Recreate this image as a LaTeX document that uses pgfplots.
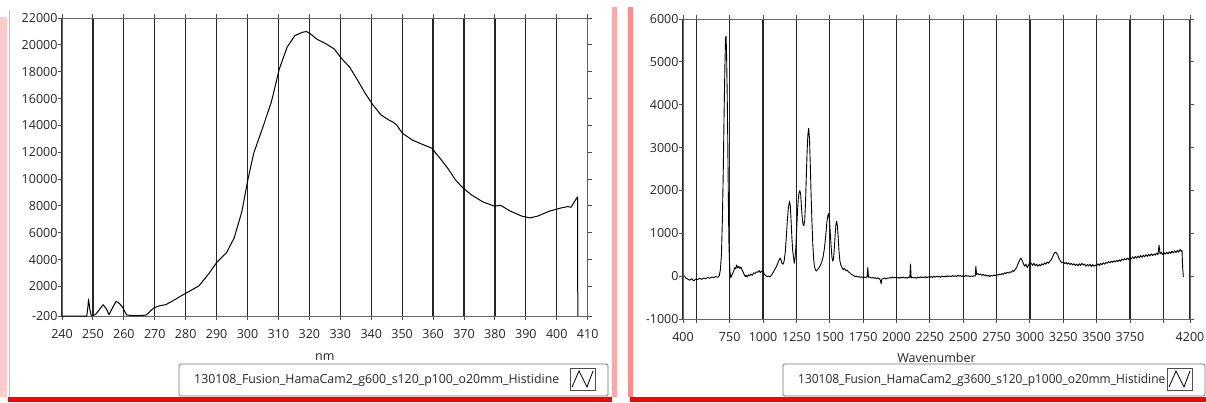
\documentclass[border=0pt]{standalone}
\usepackage{fontspec}
\setmainfont{Open Sans}
\usepackage{graphicx}
\usepackage{pgfplots}
\pgfplotsset{compat=1.18}

\pgfplotsset{
  lvgraph/.style={
    scale only axis, scaled ticks=false,
    axis line style={draw=black!60, line width=0.9pt},
    tick align=outside, major tick length=4pt,
    tick style={draw=black!70, line width=0.9pt},
    xmajorgrids, grid style={draw=black!85, line width=1.25pt},
    tick label style={font=\fontsize{12.5}{14}\selectfont, text=black!85},
    xticklabel style={yshift=-6pt},
    yticklabel style={xshift=3pt},
    label style={font=\fontsize{12.5}{14}\selectfont, text=black!85},
  }
}

\newcommand{\lvlegend}[4]{% right x, left x, text width, text
  \fill[white] (#2,6) rectangle (#1,38);
  \draw[black!55, line width=0.8pt, rounded corners=1.5pt] (#2,6) rectangle (#1,38);
  \node[anchor=west, font=\fontsize{12.5}{14}\selectfont, text=black!85, inner sep=0pt]
    at ({#2+15},22) {\resizebox{#3pt}{\height}{#4}};
  \draw[black!70, line width=0.8pt] ({#1-38},12) rectangle ({#1-13},34);
  \draw[black, line width=0.8pt] ({#1-36},15) -- ({#1-29},31) -- ({#1-21},15) -- ({#1-15},31);
}

\begin{document}
\begin{tikzpicture}[x=1pt,y=1pt]
\path[use as bounding box] (0,0) rectangle (1206,402);
\fill[white] (0,0) rectangle (1206,402);

% screenshot frame
\fill[red!20] (0,5) rectangle (7,385);
\fill[red!35] (612,5) rectangle (617,395);
\fill[red!45] (628,5) rectangle (633,395);
\draw[black!25, line width=0.6pt] (9,5) -- (9,392);
\fill[red] (8,0) rectangle (612,5);
\fill[red] (630,0) rectangle (1206,5);

\begin{axis}[lvgraph,
  at={(62pt,86pt)}, anchor=south west,
  width=525.7pt, height=298pt,
  xmin=240, xmax=410, ymin=-200, ymax=22000,
  xtick={240,250,...,410},
  xticklabels={240,250,260,270,280,290,300,310,320,330,340,350,360,370,380,390,400,410},
  ytick={-200,2000,4000,6000,8000,10000,12000,14000,16000,18000,20000,22000},
  yticklabels={-200,2000,4000,6000,8000,10000,12000,14000,16000,18000,20000,22000},
  xlabel={nm},
  xlabel style={at={(axis description cs:0.5,-0.138)}, anchor=center},
]
\addplot[black, no markers, line width=1pt, line join=round] coordinates {
 (240,-200)(248,-200)(248.3,300)(248.6,1060)(249.0,300)(249.5,-200)(250.8,-100)
 (252.0,250)(253.3,640)(254.3,350)(255.2,-100)(256.3,400)(257.5,890)(258.5,750)
 (259.6,450)(260.9,-130)(264,-180)(267.2,-130)(269.7,400)(271.5,560)(273.5,640)
 (276.0,950)(278.6,1310)(281.1,1630)(284.3,2050)(287.5,2960)(290.0,3780)
 (293.2,4520)(295.7,5630)(298.2,7610)(300.1,9950)(302.0,11930)(305.2,14030)
 (307.7,15750)(310.3,18220)(312.8,19830)(315.3,20690)(317.8,20940)(319.1,20990)
 (320.4,20810)(322.3,20440)(325.4,20070)(328.0,19700)(330.5,18960)(333.0,18350)
 (335.6,17360)(338.1,16370)(340.6,15510)(343.2,14770)(345.7,14400)(347.0,14250)
 (348.2,14030)(350.1,13410)(353.3,12910)(356.5,12590)(359.6,12300)(362.2,11560)
 (364.7,10820)(367.2,9950)(369.7,9330)(372.3,8840)(376.1,8300)(379.9,7980)
 (381.8,8050)(385.0,7610)(388.7,7240)(391.3,7110)(393.8,7240)(397.6,7610)
 (401.4,7850)(403.5,7950)(404.6,7900)(405.8,8350)(406.7,8670)(406.8,-200)
};
\end{axis}

\begin{axis}[lvgraph,
  at={(683pt,83pt)}, anchor=south west,
  width=507pt, height=300pt,
  xmin=400, xmax=4200, ymin=-1000, ymax=6000,
  xtick={400,500,750,1000,1250,1500,1750,2000,2250,2500,2750,3000,3250,3500,3750,4000,4200},
  xticklabels={400,,750,1000,1250,1500,1750,2000,2250,2500,2750,3000,3250,3500,3750,,4200},
  ytick={-1000,0,1000,2000,3000,4000,5000,6000},
  yticklabels={-1000,0,1000,2000,3000,4000,5000,6000},
  xlabel={Wavenumber},
  xlabel style={at={(axis description cs:0.5,-0.13)}, anchor=center},
]
\addplot[black, no markers, line width=0.9pt, line join=round] coordinates {
 (409,10)(420,-40)(435,-70)(450,-95)(465,-60)(480,-110)(495,-70)(510,-80)(525,-50)
 (540,-75)(555,-45)(570,-60)(585,-30)(600,-50)(615,-20)(630,-35)(645,-10)(660,-25)
 (672,10)(680,150)(688,500)(695,1300)(702,2500)(708,3800)(714,4900)(719,5550)
 (723,5600)(727,5100)(731,4300)(735,3300)(738,2400)(741,1500)(744,800)(748,350)
 (752,100)(758,-40)(765,20)(772,60)(780,120)(788,200)(795,170)(802,260)(810,190)
 (818,230)(826,180)(834,210)(842,150)(850,100)(858,40)(866,-10)(874,20)(882,-20)
 (890,30)(900,10)(910,50)(920,20)(930,80)(940,60)(950,100)(960,90)(970,130)
 (980,80)(990,120)(1000,110)(1010,40)(1020,10)(1030,-10)(1040,0)(1050,-20)
 (1060,10)(1070,60)(1080,110)(1090,170)(1100,220)(1110,300)(1120,380)(1128,420)
 (1135,370)(1142,300)(1150,280)(1158,350)(1166,550)(1174,900)(1182,1300)
 (1190,1600)(1198,1750)(1204,1650)(1210,1300)(1216,900)(1222,600)(1228,450)
 (1234,300)(1240,420)(1246,700)(1252,1100)(1258,1500)(1264,1800)(1270,1950)
 (1276,2000)(1282,1900)(1288,1600)(1294,1350)(1300,1200)(1306,1180)(1312,1300)
 (1318,1700)(1324,2300)(1330,2900)(1336,3300)(1342,3450)(1348,3200)(1354,2600)
 (1360,1900)(1366,1300)(1372,800)(1378,450)(1384,250)(1392,150)(1400,120)
 (1410,160)(1420,200)(1430,260)(1440,330)(1450,450)(1460,650)(1470,950)
 (1478,1250)(1486,1420)(1492,1460)(1498,1300)(1504,1000)(1510,700)(1516,450)
 (1522,350)(1528,400)(1534,650)(1540,950)(1546,1200)(1552,1280)(1558,1150)
 (1564,850)(1570,550)(1576,350)(1584,250)(1592,200)(1600,150)(1610,180)
 (1620,130)(1630,140)(1640,100)(1650,80)(1660,50)(1670,30)(1680,10)(1690,-10)
 (1700,0)(1710,-20)(1720,-10)(1730,-30)(1740,-15)(1750,-40)(1760,-20)(1770,-35)
 (1780,-5)(1785,200)(1790,-30)(1800,-20)(1810,-45)(1820,-30)(1830,-50)(1840,-35)
 (1850,-60)(1860,-40)(1870,-55)(1880,-100)(1885,-180)(1890,-70)(1900,-60)
 (1910,-40)(1920,-70)(1930,-45)(1940,-50)(1950,-30)(1960,-45)(1970,-20)
 (1980,-40)(1990,-25)(2000,-45)(2010,-30)(2020,-50)(2030,-25)(2040,-40)
 (2050,-20)(2060,-45)(2070,-30)(2080,-50)(2090,-20)(2100,-35)(2105,280)
 (2110,-40)(2120,-25)(2130,-45)(2140,-30)(2150,-50)(2160,-20)(2170,-40)
 (2180,-15)(2190,-35)(2200,-20)(2210,-40)(2220,-10)(2230,-35)(2240,-15)
 (2250,-30)(2260,-10)(2270,-30)(2280,-5)(2290,-25)(2300,0)(2310,-20)(2320,-5)
 (2330,-25)(2340,5)(2350,-15)(2360,0)(2370,-20)(2380,10)(2390,-10)(2400,5)
 (2410,-15)(2420,15)(2430,-5)(2440,10)(2450,-10)(2460,20)(2470,0)(2480,15)
 (2490,-10)(2500,10)(2510,-5)(2520,15)(2530,0)(2540,10)(2550,-15)(2560,5)
 (2570,-5)(2580,10)(2590,0)(2595,230)(2600,40)(2610,60)(2620,30)(2630,50)
 (2640,20)(2650,40)(2660,10)(2670,30)(2680,0)(2690,20)(2700,-10)(2710,20)
 (2720,0)(2730,30)(2740,10)(2750,40)(2760,20)(2770,50)(2780,30)(2790,60)
 (2800,40)(2810,80)(2820,60)(2830,90)(2840,70)(2850,100)(2860,90)(2870,130)
 (2880,110)(2890,160)(2900,200)(2910,280)(2920,350)(2930,420)(2940,380)
 (2950,300)(2960,230)(2970,280)(2980,200)(2990,260)(3000,330)(3010,300)
 (3020,250)(3030,300)(3040,240)(3050,280)(3060,230)(3070,270)(3080,240)
 (3090,290)(3100,260)(3110,310)(3120,280)(3130,330)(3140,300)(3150,350)
 (3160,380)(3170,450)(3180,520)(3190,560)(3200,540)(3210,480)(3220,400)
 (3230,350)(3240,310)(3250,330)(3260,290)(3270,320)(3280,280)(3290,310)
 (3300,270)(3310,300)(3320,260)(3330,290)(3340,250)(3350,280)(3360,240)
 (3370,290)(3380,250)(3390,300)(3400,260)(3410,280)(3420,230)(3430,270)
 (3440,240)(3450,280)(3460,220)(3470,270)(3480,230)(3490,260)(3500,240)
 (3510,290)(3520,250)(3530,300)(3540,270)(3550,310)(3560,280)(3570,320)
 (3580,300)(3590,340)(3600,310)(3610,350)(3620,320)(3630,360)(3640,330)
 (3650,370)(3660,340)(3670,380)(3680,350)(3690,400)(3700,370)(3710,410)
 (3720,380)(3730,420)(3740,390)(3750,430)(3760,400)(3770,450)(3780,410)
 (3790,460)(3800,420)(3810,470)(3820,430)(3830,480)(3840,440)(3850,490)
 (3860,450)(3870,500)(3880,460)(3890,510)(3900,470)(3910,520)(3920,480)
 (3930,520)(3940,490)(3950,540)(3960,500)(3968,720)(3975,520)(3985,560)
 (3995,500)(4005,550)(4015,510)(4025,560)(4035,520)(4045,570)(4055,530)
 (4065,580)(4075,540)(4085,590)(4095,550)(4105,600)(4115,560)(4125,620)
 (4135,580)(4140,600)(4145,200)(4150,-20)
};
\end{axis}

\lvlegend{608}{179}{365}{130108\_Fusion\_HamaCam2\_g600\_s120\_p100\_o20mm\_Histidine}
\lvlegend{1205}{783}{367}{130108\_Fusion\_HamaCam2\_g3600\_s120\_p1000\_o20mm\_Histidine}
\end{tikzpicture}
\end{document}
